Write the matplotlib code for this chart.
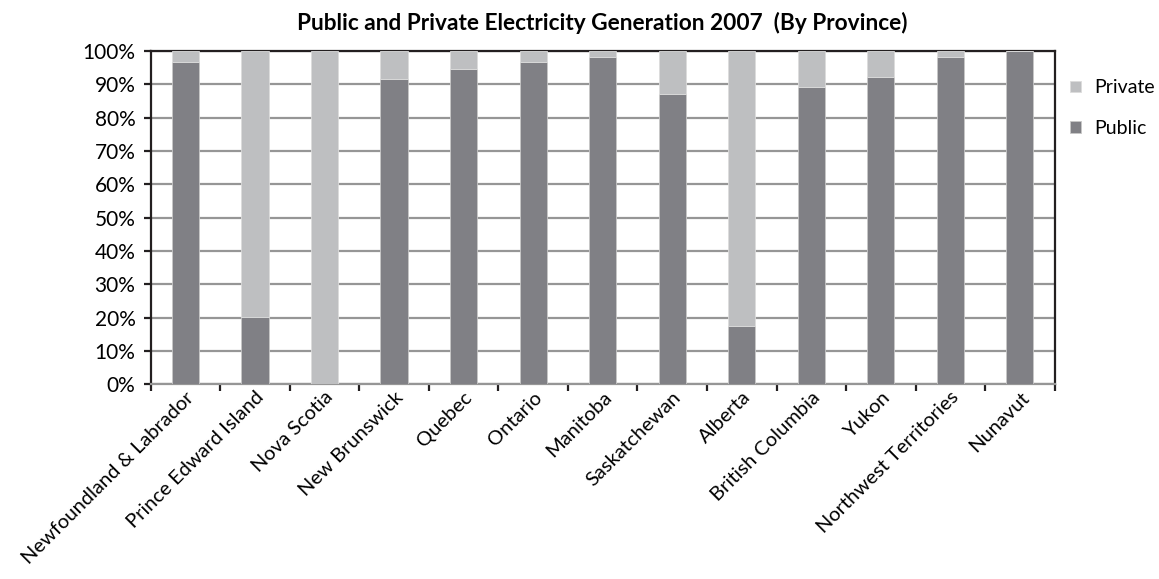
import matplotlib
matplotlib.use("Agg")
import matplotlib.pyplot as plt
from matplotlib.ticker import FuncFormatter, FixedLocator
import numpy as np

provinces = ["Newfoundland & Labrador", "Prince Edward Island", "Nova Scotia",
             "New Brunswick", "Quebec", "Ontario", "Manitoba", "Saskatchewan",
             "Alberta", "British Columbia", "Yukon", "Northwest Territories", "Nunavut"]
public = [96.8, 20.3, 0.0, 91.7, 94.6, 96.8, 98.3, 87.2, 17.5, 89.1, 92.1, 98.3, 100.0]
private = [100 - p for p in public]

plt.rcParams['font.family'] = ['Lato', 'DejaVu Sans']

fig = plt.figure(figsize=(11.59, 5.79), dpi=100)
ax = fig.add_axes([0.130, 0.336, 0.780, 0.576])

x = np.arange(len(provinces))
c_pub = "#808085"
c_priv = "#bebfc1"
b1 = ax.bar(x, public, width=0.39, color=c_pub, edgecolor="#c8c8c8", linewidth=0.6, label="Public", zorder=3)
b2 = ax.bar(x, private, bottom=public, width=0.39, color=c_priv, edgecolor="#dcdcdc", linewidth=0.6, label="Private", zorder=3)

ax.set_xlim(-0.5, len(provinces) - 0.5)
ax.set_ylim(0, 100)
ax.set_yticks(np.arange(0, 101, 10))
ax.yaxis.set_major_formatter(FuncFormatter(lambda v, p: f"{int(v)}%"))
ax.yaxis.grid(True, color="#969696", linewidth=1.6, zorder=0)
ax.set_axisbelow(True)

fs = 14.5
ax.set_xticks(x)
ax.set_xticklabels(provinces, rotation=45, ha="right", rotation_mode="anchor", fontsize=fs)
ax.xaxis.set_minor_locator(FixedLocator(np.arange(-0.5, len(provinces), 1)))
ax.tick_params(axis="x", which="major", length=0, pad=3)
ax.tick_params(axis="x", which="minor", length=5, width=1.6, color="#231f20", direction="out")
ax.tick_params(axis="y", length=5, width=1.6, color="#231f20", labelsize=15, pad=6)

for s in ["left", "top", "right"]:
    ax.spines[s].set_color("#231f20")
    ax.spines[s].set_linewidth(1.6)
ax.spines["bottom"].set_color("#969696")
ax.spines["bottom"].set_linewidth(1.6)

ax.set_title("Public and Private Electricity Generation 2007  (By Province)", fontsize=16.3,
             fontweight="bold", pad=15)

leg = ax.legend(handles=[b2, b1], labels=["Private", "Public"], loc="upper left",
                bbox_to_anchor=(1.017, 0.915), frameon=False, fontsize=14,
                borderpad=0, borderaxespad=0,
                handlelength=0.55, handleheight=0.55, labelspacing=1.2, handletextpad=0.7)

fig.savefig("out.png", dpi=100)
